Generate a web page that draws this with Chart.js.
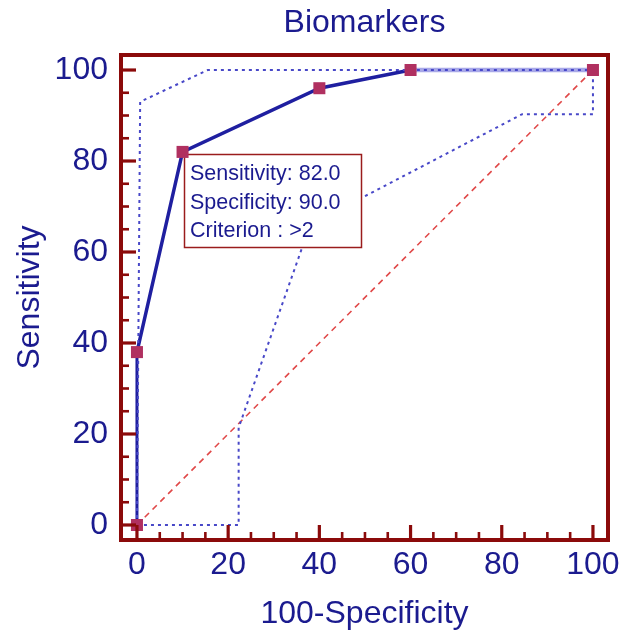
<!DOCTYPE html>
<html><head><meta charset="utf-8">
<script src="https://cdn.jsdelivr.net/npm/chart.js@4.4.1/dist/chart.umd.min.js"></script>
<style>html,body{margin:0;padding:0;background:#fff;overflow:hidden}</style>
</head><body>
<canvas id="c" width="631" height="635"></canvas>
<script>
// ---- data ----
const rocX = [0, 0, 10, 40, 60, 100];
const rocY = [0, 38, 82, 96, 100, 100];
const upperX = [0, 0.7, 15.5, 100];
const upperY = [0, 93, 100, 100];
const lowerX = [0, 22.3, 22.3, 38, 84.5, 100, 100];
const lowerY = [0, 0, 21.4, 66, 90.3, 90.3, 100];
const diagX = [0, 100];
const diagY = [0, 100];
const tickValues = [0, 20, 40, 60, 80, 100];
const tickLabels = ['0', '20', '40', '60', '80', '100'];
const minorStep = 5;
const annotationLines = ['Sensitivity: 82.0', 'Specificity: 90.0', 'Criterion : >2'];
const criterionIndex = 2;

const NAVY = '#1b1b8f';
const DARKRED = '#8b0a0a';
const FONT = '"Liberation Sans", Arial, sans-serif';

const pts = (xs, ys) => xs.map((v, i) => ({x: v, y: ys[i]}));

const framePlugin = {
  id: 'frame',
  beforeDatasetDraw(chart, args) {
    if (args.index !== 0) return;
    const {ctx, scales: {x, y}} = chart;
    const px = x.getPixelForValue(rocX[criterionIndex]);
    const py = y.getPixelForValue(rocY[criterionIndex]);
    const bx = Math.round(px) + 1, by = Math.round(py) + 2, bw = 177, bh = 93;
    ctx.save();
    ctx.fillStyle = '#fff';
    ctx.fillRect(bx, by, bw, bh);
    ctx.strokeStyle = '#9a1c1c';
    ctx.lineWidth = 1.5;
    ctx.strokeRect(bx + 0.5, by + 0.5, bw, bh);
    ctx.fillStyle = NAVY;
    ctx.font = '21.5px ' + FONT;
    ctx.textBaseline = 'alphabetic';
    annotationLines.forEach((t, i) => ctx.fillText(t, bx + 6, by + 26 + i * 28.5));
    ctx.restore();
  },
  afterDatasetsDraw(chart) {
    const {ctx, chartArea: a, scales: {x, y}} = chart;
    ctx.save();
    ctx.strokeStyle = DARKRED;
    ctx.lineWidth = 4;
    ctx.strokeRect(a.left, a.top, a.right - a.left, a.bottom - a.top);
    const lo = tickValues[0], hi = tickValues[tickValues.length - 1];
    for (let v = lo; v <= hi + 1e-9; v += minorStep) {
      const major = tickValues.includes(v);
      const len = major ? 15 : 8;
      ctx.lineWidth = major ? 3.2 : 2.6;
      const yp = y.getPixelForValue(v);
      ctx.beginPath(); ctx.moveTo(a.left, yp); ctx.lineTo(a.left + len, yp); ctx.stroke();
      const xp = x.getPixelForValue(v);
      ctx.beginPath(); ctx.moveTo(xp, a.bottom); ctx.lineTo(xp, a.bottom - len); ctx.stroke();
    }
    ctx.restore();
  }
};

const tickCfg = {
  color: NAVY,
  font: {size: 32, family: FONT},
  callback: (v) => tickLabels[tickValues.indexOf(v)] ?? ''
};

new Chart(document.getElementById('c'), {
  type: 'scatter',
  data: {
    datasets: [
      {
        label: 'ROC points', data: pts(rocX, rocY), showLine: false, order: 0,
        pointStyle: 'rect', pointRadius: 8.5, pointBackgroundColor: '#b03060', pointBorderColor: '#b03060', pointBorderWidth: 0
      },
      {
        label: 'Upper CI', data: pts(upperX, upperY), showLine: true, order: 1,
        borderColor: '#4848c8', borderWidth: 2, borderDash: [3, 4], pointRadius: 0
      },
      {
        label: 'Lower CI', data: pts(lowerX, lowerY), showLine: true, order: 1,
        borderColor: '#4848c8', borderWidth: 2, borderDash: [3, 4], pointRadius: 0
      },
      {
        label: 'ROC', data: pts(rocX, rocY), showLine: true, order: 2,
        borderColor: '#1f1fa0', borderWidth: 3.5, pointRadius: 0,
        segment: {
          borderColor: (c) => (c.p0DataIndex === 4) ? '#a8a8e8' : undefined,
          borderWidth: (c) => (c.p0DataIndex === 0) ? 3 : (c.p0DataIndex === 4 ? 4.5 : undefined)
        }
      },
      {
        label: 'Reference', data: pts(diagX, diagY), showLine: true, order: 3,
        borderColor: '#e04848', borderWidth: 1.6, borderDash: [6, 5], pointRadius: 0
      }
    ]
  },
  options: {
    responsive: false,
    animation: false,
    layout: {padding: {left: 0, right: 23, top: 0, bottom: 0}},
    plugins: {
      legend: {display: false},
      tooltip: {enabled: false},
      title: {
        display: true, fullSize: false, text: 'Biomarkers', color: NAVY,
        font: {size: 32, family: FONT, weight: 'normal'},
        padding: {top: 4, bottom: 12.6}
      }
    },
    scales: {
      x: {
        type: 'linear', min: -3.5, max: 103.3,
        afterBuildTicks: (s) => { s.ticks = tickValues.map(v => ({value: v})); },
        afterFit: (s) => { s.height = 95; },
        grid: {display: false, drawTicks: false},
        border: {display: false},
        ticks: Object.assign({padding: 6}, tickCfg),
        title: {display: true, text: '100-Specificity', color: NAVY, font: {size: 32, family: FONT}, padding: {top: 0, bottom: 2}}
      },
      y: {
        type: 'linear', min: -3.3, max: 103.3,
        afterBuildTicks: (s) => { s.ticks = tickValues.map(v => ({value: v})); },
        afterFit: (s) => { s.width = 121; },
        grid: {display: false, drawTicks: false},
        border: {display: false},
        ticks: Object.assign({padding: 13}, tickCfg),
        title: {display: true, text: 'Sensitivity', color: NAVY, font: {size: 32, family: FONT}, padding: {top: 11, bottom: 0}}
      }
    }
  },
  plugins: [framePlugin]
});
</script>
</body></html>
